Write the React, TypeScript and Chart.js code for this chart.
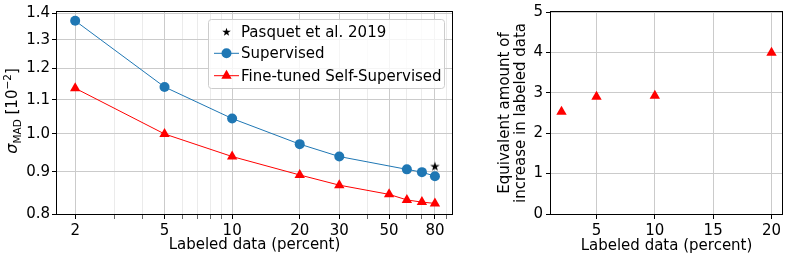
import React, { useEffect, useRef } from 'react';
import { Chart, registerables } from 'chart.js';

Chart.register(...registerables);

// ---- Left panel data ----
const supX = [2, 5, 10, 20, 30, 60, 70, 80];
const supY = [1.371, 1.140, 1.044, 0.972, 0.939, 0.906, 0.899, 0.889];
const ftX = [2, 5, 10, 20, 30, 50, 60, 70, 80];
const ftY = [1.136, 1.000, 0.939, 0.892, 0.867, 0.845, 0.832, 0.827, 0.824];
const pasquetX = [80];
const pasquetY = [0.913];
const xMajorTicks = [2, 5, 10, 20, 30, 50, 80];
const xMinorTicks = [3, 4, 6, 7, 8, 9, 40, 60, 70, 90];
const yLeftTicks = [0.8, 0.9, 1.0, 1.1, 1.2, 1.3, 1.4];
const legendLabels = ['Pasquet et al. 2019', 'Supervised', 'Fine-tuned Self-Supervised'];

// ---- Right panel data ----
const eqX = [2, 5, 10, 20];
const eqY = [2.53, 2.90, 2.93, 3.99];
const eqXTicks = [5, 10, 15, 20];
const eqYTicks = [0, 1, 2, 3, 4, 5];

const FONT = '"DejaVu Sans", sans-serif';
const FS = 15;
const BLUE = '#1f77b4';
const RED = '#ff0000';
const GRID = '#cbcbcb';
const GRID_MINOR = '#ebebeb';

function starPath(ctx: CanvasRenderingContext2D, cx: number, cy: number, R: number) {
  const r = R * 0.381966;
  ctx.beginPath();
  for (let i = 0; i < 10; i++) {
    const rad = i % 2 === 0 ? R : r;
    const a = -Math.PI / 2 + (i * Math.PI) / 5;
    const x = cx + rad * Math.cos(a);
    const y = cy + rad * Math.sin(a);
    if (i === 0) ctx.moveTo(x, y);
    else ctx.lineTo(x, y);
  }
  ctx.closePath();
}

function makeStar(R: number) {
  const c = document.createElement('canvas');
  const s = Math.ceil(2 * R + 2);
  c.width = s;
  c.height = s;
  const g = c.getContext('2d')!;
  g.fillStyle = '#000';
  starPath(g, s / 2, s / 2, R);
  g.fill();
  return c;
}

const framePlugin = {
  id: 'frame',
  afterDatasetsDraw(chart: any) {
    const { ctx, chartArea: a } = chart;
    ctx.save();
    ctx.strokeStyle = '#000';
    ctx.lineWidth = 1;
    ctx.strokeRect(a.left - 0.5, a.top - 0.5, a.right - a.left + 1, a.bottom - a.top + 1);
    ctx.restore();
  },
};

const leftYLabelPlugin = {
  id: 'leftYLabel',
  afterDraw(chart: any) {
    const { ctx, chartArea: a } = chart;
    const parts = [
      { t: 'σ', f: `italic 16px ${FONT}`, dy: 0 },
      { t: 'MAD', f: `10.5px ${FONT}`, dy: 4 },
      { t: ' [10', f: `${FS}px ${FONT}`, dy: 0 },
      { t: '−2', f: `10.5px ${FONT}`, dy: -6.5 },
      { t: ']', f: `${FS}px ${FONT}`, dy: 0 },
    ];
    ctx.save();
    ctx.fillStyle = '#000';
    ctx.textBaseline = 'alphabetic';
    ctx.textAlign = 'left';
    let total = 0;
    const widths = parts.map((p) => {
      ctx.font = p.f;
      const w = ctx.measureText(p.t).width;
      total += w;
      return w;
    });
    ctx.translate(17, (a.top + a.bottom) / 2 - 2);
    ctx.rotate(-Math.PI / 2);
    let x = -total / 2;
    parts.forEach((p, i) => {
      ctx.font = p.f;
      ctx.fillText(p.t, x, p.dy);
      x += widths[i];
    });
    ctx.restore();
  },
};

const legendPlugin = {
  id: 'customLegend',
  afterDraw(chart: any) {
    const ctx = chart.ctx as CanvasRenderingContext2D;
    const bx = 208.5, by = 19.5, bw = 236, bh = 69, rr = 3;
    ctx.save();
    ctx.beginPath();
    ctx.moveTo(bx + rr, by);
    ctx.lineTo(bx + bw - rr, by);
    ctx.arcTo(bx + bw, by, bx + bw, by + rr, rr);
    ctx.lineTo(bx + bw, by + bh - rr);
    ctx.arcTo(bx + bw, by + bh, bx + bw - rr, by + bh, rr);
    ctx.lineTo(bx + rr, by + bh);
    ctx.arcTo(bx, by + bh, bx, by + bh - rr, rr);
    ctx.lineTo(bx, by + rr);
    ctx.arcTo(bx, by, bx + rr, by, rr);
    ctx.closePath();
    ctx.fillStyle = 'rgba(255,255,255,0.8)';
    ctx.fill();
    ctx.strokeStyle = '#cccccc';
    ctx.lineWidth = 1;
    ctx.stroke();

    const rows = [31.7, 53.3, 75.7];
    const x0 = 214, x1 = 239, mx = 226.5;
    // star
    ctx.fillStyle = '#000';
    starPath(ctx, mx, rows[0] + 0.5, 4.5);
    ctx.fill();
    // supervised
    ctx.strokeStyle = BLUE;
    ctx.beginPath();
    ctx.moveTo(x0, rows[1]);
    ctx.lineTo(x1, rows[1]);
    ctx.stroke();
    ctx.fillStyle = BLUE;
    ctx.beginPath();
    ctx.arc(mx, rows[1], 5, 0, Math.PI * 2);
    ctx.fill();
    // fine-tuned
    ctx.strokeStyle = RED;
    ctx.beginPath();
    ctx.moveTo(x0, rows[2]);
    ctx.lineTo(x1, rows[2]);
    ctx.stroke();
    ctx.fillStyle = RED;
    ctx.beginPath();
    const r = 6;
    for (let i = 0; i < 3; i++) {
      const ang = -Math.PI / 2 + (i * 2 * Math.PI) / 3;
      const px = mx + r * Math.cos(ang);
      const py = rows[2] + r * Math.sin(ang);
      if (i === 0) ctx.moveTo(px, py);
      else ctx.lineTo(px, py);
    }
    ctx.closePath();
    ctx.fill();

    ctx.fillStyle = '#000';
    ctx.font = `${FS}px ${FONT}`;
    ctx.textBaseline = 'middle';
    ctx.textAlign = 'left';
    legendLabels.forEach((t, i) => ctx.fillText(t, 241, rows[i] + 1));
    ctx.restore();
  },
};

function LeftChart() {
  const ref = useRef<HTMLCanvasElement>(null);
  useEffect(() => {
    const star = makeStar(5);
    const allX = [...xMajorTicks, ...xMinorTicks].sort((a, b) => a - b);
    const chart = new Chart(ref.current!, {
      type: 'scatter',
      data: {
        datasets: [
          {
            label: 'Supervised',
            data: supX.map((x, i) => ({ x, y: supY[i] })),
            showLine: true,
            borderColor: BLUE,
            backgroundColor: BLUE,
            borderWidth: 1,
            pointRadius: 5,
            pointBorderWidth: 0,
            order: 2,
          },
          {
            label: 'Fine-tuned Self-Supervised',
            data: ftX.map((x, i) => ({ x, y: ftY[i] })),
            showLine: true,
            borderColor: RED,
            backgroundColor: RED,
            borderWidth: 1,
            pointStyle: 'triangle',
            pointRadius: 6,
            pointBorderWidth: 0,
            order: 1,
          },
          {
            label: 'Pasquet et al. 2019',
            data: pasquetX.map((x, i) => ({ x, y: pasquetY[i] })),
            pointStyle: star as any,
            pointRadius: 5,
            order: 0,
          },
        ],
      },
      options: {
        animation: false,
        responsive: false,
        events: [],
        layout: { padding: { left: 0, top: 12, right: 18, bottom: 0 } },
        plugins: { legend: { display: false }, tooltip: { enabled: false } },
        scales: {
          x: {
            type: 'logarithmic',
            min: 1.66,
            max: 95.3,
            afterBuildTicks: (s: any) => {
              s.ticks = allX.map((v) => ({ value: v, major: xMajorTicks.includes(v) }));
            },
            afterFit: (s: any) => {
              s.height = 46;
            },
            ticks: {
              autoSkip: false,
              maxRotation: 0,
              padding: 3,
              color: '#000',
              font: { family: FONT, size: FS },
              callback: (v: any) => (xMajorTicks.includes(Number(v)) ? String(v) : ''),
            },
            grid: {
              color: (c: any) => (c.tick && xMajorTicks.includes(c.tick.value) ? GRID : GRID_MINOR),
              tickColor: (c: any) => (c.tick && xMajorTicks.includes(c.tick.value) ? '#000' : '#666'),
              tickLength: 5,
              lineWidth: 1,
            },
            border: { display: false },
            title: {
              display: true,
              text: 'Labeled data (percent)',
              color: '#000',
              font: { family: FONT, size: FS },
              padding: { top: 0, bottom: 6 },
            },
          },
          y: {
            type: 'logarithmic',
            min: 0.8,
            max: 1.405,
            afterBuildTicks: (s: any) => {
              s.ticks = yLeftTicks.map((v) => ({ value: v }));
            },
            afterFit: (s: any) => {
              s.width = 57;
            },
            ticks: {
              autoSkip: false,
              padding: 2,
              color: '#000',
              font: { family: FONT, size: FS },
              callback: (v: any) => Number(v).toFixed(1),
            },
            grid: { color: GRID, tickColor: '#000', tickLength: 5, lineWidth: 1 },
            border: { display: false },
          },
        },
      },
      plugins: [framePlugin, leftYLabelPlugin, legendPlugin],
    } as any);
    return () => chart.destroy();
  }, []);
  return <canvas ref={ref} width={470} height={260} style={{ width: 470, height: 260, display: 'block' }} />;
}

function RightChart() {
  const ref = useRef<HTMLCanvasElement>(null);
  useEffect(() => {
    const chart = new Chart(ref.current!, {
      type: 'scatter',
      data: {
        datasets: [
          {
            label: 'Equivalent',
            data: eqX.map((x, i) => ({ x, y: eqY[i] })),
            pointStyle: 'triangle',
            pointRadius: 6,
            pointBorderWidth: 0,
            backgroundColor: RED,
            borderColor: RED,
          },
        ],
      },
      options: {
        animation: false,
        responsive: false,
        events: [],
        layout: { padding: { left: 0, top: 12, right: 7, bottom: 0 } },
        plugins: { legend: { display: false }, tooltip: { enabled: false } },
        scales: {
          x: {
            type: 'linear',
            min: 1.1,
            max: 20.9,
            afterBuildTicks: (s: any) => {
              s.ticks = eqXTicks.map((v) => ({ value: v }));
            },
            afterFit: (s: any) => {
              s.height = 46;
            },
            ticks: {
              autoSkip: false,
              maxRotation: 0,
              padding: 3,
              color: '#000',
              font: { family: FONT, size: FS },
            },
            grid: { color: GRID, tickColor: '#000', tickLength: 5, lineWidth: 1 },
            border: { display: false },
            title: {
              display: true,
              text: 'Labeled data (percent)',
              color: '#000',
              font: { family: FONT, size: FS },
              padding: { top: 0, bottom: 5 },
            },
          },
          y: {
            type: 'linear',
            min: 0,
            max: 5,
            afterBuildTicks: (s: any) => {
              s.ticks = eqYTicks.map((v) => ({ value: v }));
            },
            afterFit: (s: any) => {
              s.width = 81;
            },
            ticks: {
              autoSkip: false,
              padding: 3,
              color: '#000',
              font: { family: FONT, size: FS },
            },
            grid: { color: GRID, tickColor: '#000', tickLength: 5, lineWidth: 1 },
            border: { display: false },
            title: {
              display: true,
              text: ['Equivalent amount of', 'increase in labeled data'],
              color: '#000',
              font: { family: FONT, size: FS, lineHeight: 1.1 },
              padding: { top: 26.5, bottom: 0 },
            },
          },
        },
      },
      plugins: [framePlugin],
    } as any);
    return () => chart.destroy();
  }, []);
  return <canvas ref={ref} width={319} height={260} style={{ width: 319, height: 260, display: 'block' }} />;
}

export default function App() {
  return (
    <div style={{ position: 'absolute', left: 0, top: 0, width: 789, height: 260, background: '#fff', display: 'flex' }}>
      <LeftChart />
      <RightChart />
    </div>
  );
}
